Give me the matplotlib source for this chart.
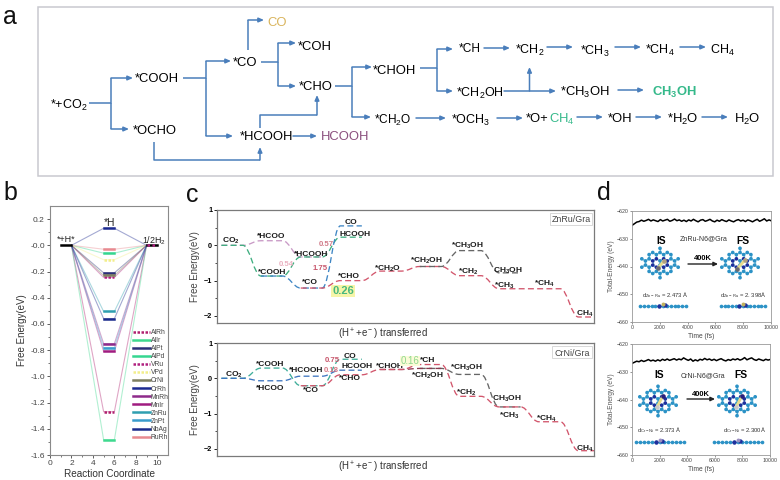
"""Panel figure: CO2 reduction pathways, H adsorption levels, free-energy profiles, AIMD traces."""

import matplotlib

matplotlib.use("Agg")
import matplotlib.pyplot as plt
import numpy as np
from matplotlib.collections import LineCollection
from matplotlib.lines import Line2D
from matplotlib.patches import PathPatch, Rectangle
from matplotlib.path import Path

plt.rcParams["font.family"] = ["Liberation Sans", "DejaVu Sans"]
plt.rcParams["mathtext.default"] = "regular"

W, H = 780, 480

# panel b
alloys = ["AlRh", "AlIr", "AlPt", "AlPd", "VRu", "VPd", "CrNi", "CrRh", "MnRh", "MnIr", "ZnRu", "ZnPt", "NbAg", "RuRh"]
h_levels = [-1.27, -1.485, -0.21, -0.06, -0.245, -0.11, -0.23, 0.13, -0.75, -0.81, -0.505, -0.78, -0.56, -0.03]
h_colors = ["#b0206f", "#3fd98f", "#2b2f78", "#35d690", "#b0207f", "#f2ee8c", "#7f8060", "#1c2a90",
            "#8e2a8a", "#a01c80", "#2f9fb0", "#3a9ccc", "#1a2a8c", "#e88a90"]
dotted_alloys = ["AlRh", "VRu", "VPd"]

# panel c, top: (steps, energies)
top_pink = ([0, 1, 2], [0, 0.13, -0.33])
top_green = ([0, 1, 2, 3], [0, -0.87, -0.33, 0.23])
top_blue = ([1, 2, 3], [-0.87, -1.21, 0.55])
top_red = ([2, 3, 4, 5, 6, 7, 8, 9], [-1.21, -1.0, -0.73, -0.6, -0.86, -1.23, -1.23, -2.03])
top_gray = ([5, 6, 7], [-0.6, -0.15, -0.78])

# panel c, bottom
bot_green = ([0, 1, 2, 3], [0, 0.29, -0.21, 0.54])
bot_blue = ([0, 1, 2, 3], [0, -0.07, 0.06, 0.23])
bot_red = ([2, 3, 4, 5, 6, 7, 8, 9], [-0.21, 0.10, 0.25, 0.39, -0.51, -0.81, -1.23, -2.05])
bot_dark = ([4, 5], [0.25, 0.28])
bot_gray = ([5, 6, 7], [0.28, 0.11, -0.81])

# panel d
time_fs = [0, 170, 340, 510, 680, 850, 1020, 1190, 1360, 1530, 1700, 1870, 2040, 2210, 2380, 2550, 2720, 2890,
           3060, 3230, 3400, 3570, 3740, 3910, 4080, 4250, 4420, 4590, 4760, 4930, 5100, 5270, 5440, 5610,
           5780, 5950, 6120, 6290, 6460, 6630, 6800, 6970, 7140, 7310, 7480, 7650, 7820, 7990, 8160, 8330,
           8500, 8670, 8840, 9010, 9180, 9350, 9520, 9690, 9860, 10000]
znru_energy = [-625.2, -624.6, -624.0, -623.8, -623.3, -623.7, -623.4, -623.0, -623.6, -623.2, -623.5, -623.8,
               -623.1, -623.6, -623.3, -623.0, -623.7, -623.4, -622.9, -623.5, -623.2, -623.7, -623.3, -623.8,
               -623.2, -623.6, -623.0, -623.5, -623.9, -623.3, -623.1, -623.7, -623.4, -623.0, -623.6, -623.9,
               -623.3, -623.7, -623.1, -623.5, -623.8, -623.2, -623.6, -623.9, -623.4, -623.1, -623.6, -623.3,
               -623.8, -623.2, -623.5, -623.9, -623.4, -623.0, -623.7, -623.3, -622.8, -623.6, -623.2, -623.5]
crni_energy = [-627.0, -626.6, -626.2, -626.4, -625.9, -626.3, -626.0, -625.6, -626.1, -625.8, -626.2, -625.7,
               -626.1, -625.5, -625.9, -625.4, -625.9, -625.6, -625.3, -625.8, -625.4, -625.7, -625.0, -625.5,
               -625.9, -625.4, -626.2, -625.7, -626.1, -625.5, -625.8, -625.2, -625.7, -625.4, -625.9, -625.5,
               -626.0, -625.6, -625.3, -625.8, -626.1, -625.6, -625.9, -625.4, -625.7, -625.3, -625.8, -625.5,
               -624.9, -625.7, -625.3, -625.0, -625.6, -625.9, -625.4, -625.7, -626.0, -625.5, -625.8, -625.6]

# panel a
node_texts = ["*+CO$_2$", "*COOH", "*OCHO", "*CO", "CO", "*COH", "*CHO", "*HCOOH", "HCOOH", "*CHOH", "*CH$_2$O",
              "*CH", "*CH$_2$", "*CH$_3$", "*CH$_4$", "CH$_4$", "*CH$_2$OH", "*CH$_3$OH", "CH$_3$OH", "*OCH$_3$",
              "*O+", "CH$_4$", "*OH", "*H$_2$O", "H$_2$O"]
node_xy = [(50, 103), (135, 78), (133, 129), (233, 61), (267, 21), (298, 45), (299, 86), (240, 136), (321, 136),
           (373, 70), (374, 118), (459, 47), (515, 48), (580, 49), (645, 48), (710, 48), (456, 91), (560, 90),
           (652, 90), (451, 118), (526, 117), (549, 117), (608, 117), (667, 117), (734, 117)]
node_colors = {"CO": "#d9b45c", "HCOOH": "#8a4f7d", "CH$_3$OH": "#35b98a"}

pathway_arrows = [
    [(89, 103), (111, 103), (111, 78), (133, 78)],
    [(111, 103), (111, 129), (129, 129)],
    [(183, 78), (206, 78), (206, 61), (231, 61)],
    [(206, 78), (206, 136), (233, 136)],
    [(248, 50), (248, 20), (264, 20)],
    [(261, 62), (278, 62), (278, 43), (296, 43)],
    [(278, 62), (278, 86), (296, 86)],
    [(335, 86), (352, 86), (352, 67), (372, 67)],
    [(352, 86), (352, 117), (371, 117)],
    [(260, 128), (260, 115), (317, 115), (317, 95)],
    [(293, 136), (317, 136)],
    [(154, 142), (154, 160), (260, 160), (260, 147)],
    [(420, 68), (437, 68), (437, 49), (453, 49)],
    [(437, 68), (437, 91), (453, 91)],
    [(484, 48), (510, 48)], [(547, 47), (573, 47)], [(615, 47), (641, 47)], [(680, 47), (706, 47)],
    [(504, 91), (556, 91)], [(529.5, 91), (529.5, 67)], [(618, 90), (644, 90)],
    [(416, 118), (446, 118)], [(497, 118), (523, 118)], [(577, 117), (603, 117)],
    [(636, 117), (662, 117)], [(702, 117), (728, 117)],
]

# panel c labels
top_labels = ["CO$_2$", "*HCOO", "*COOH", "*HCOOH", "*CO", "CO", "HCOOH", "*CHO", "*CH$_2$O", "*CH$_2$OH", "*CH$_3$OH",
              "*CH$_2$", "CH$_3$OH", "*CH$_3$", "*CH$_4$", "CH$_4$"]
top_label_xy = [(231, 239), (271, 236), (272, 272), (311, 253), (310, 282), (351, 221), (355, 233), (349, 276),
                (388, 267), (426, 259), (467, 244), (468, 270), (508, 269), (504, 284), (544, 282), (585, 312)]
bot_labels = ["CO$_2$", "*COOH", "*HCOO", "*HCOOH", "*CO", "CO", "HCOOH", "*CHO", "*CHOH", "*CH", "*CH$_2$OH",
              "*CH$_3$OH", "*CH$_2$", "CH$_3$OH", "*CH$_3$", "*CH$_4$", "CH$_4$"]
bot_label_xy = [(234, 373), (270, 364), (270, 387), (306, 369), (311, 390), (350, 355), (357, 366), (350, 378),
                (390, 366), (428, 360), (427, 374), (466, 366), (466, 391), (507, 397), (509, 414), (546, 417), (585, 447)]


def px_axes(fig, left, right, top, bottom):
    return fig.add_axes([left / W, 1 - bottom / H, (right - left) / W, (bottom - top) / H])


def profile(ax, steps, energies, color, half=0.27):
    verts, codes = [(steps[0] - half, energies[0]), (steps[0] + half, energies[0])], [Path.MOVETO, Path.LINETO]
    for k in range(1, len(steps)):
        x0, y0 = verts[-1]
        x1, y1 = steps[k] - half, energies[k]
        dx = x1 - x0
        verts += [(x0 + 0.4 * dx, y0), (x1 - 0.4 * dx, y1), (x1, y1), (steps[k] + half, y1)]
        codes += [Path.CURVE4, Path.CURVE4, Path.CURVE4, Path.LINETO]
    ax.add_patch(PathPatch(Path(verts, codes), fill=False, ec=color, lw=0.95, ls=(0, (4.5, 2.5))))


def flake(ov, cx, cy, metals, metal_colors, bond_color="#7fc4dc", s=4.2):
    atoms = []
    for i in range(-6, 7):
        for j in range(-6, 7):
            for b in (-0.5, 0.5):
                x = (i + j / 2) * np.sqrt(3)
                y = j * 1.5 + b
                if (x / 4.8) ** 2 + (y / 3.6) ** 2 <= 1:
                    atoms.append((x, y))
    atoms = np.array(atoms)
    d = np.hypot(*(atoms[:, None] - atoms[None]).transpose(2, 0, 1))
    pairs = [(atoms[a] * s + (cx, cy), atoms[b] * s + (cx, cy)) for a, b in zip(*np.where((d > 0.9) & (d < 1.1))) if a < b]
    ov.add_collection(LineCollection(pairs, colors=bond_color, lw=1.0))
    r = np.hypot(*atoms.T)
    colors = ["#1f2f9c" if 1.2 < v < 1.9 else "#2c92c6" for v in r]
    ov.scatter(*(atoms * s + (cx, cy)).T, s=7, c=colors, lw=0, zorder=3)
    ov.plot([cx + metals[0][0], cx + metals[1][0]], [cy + metals[0][1], cy + metals[1][1]], color="#e8dc8c", lw=2, zorder=3)
    for (mx, my), mc in zip(metals, metal_colors):
        ov.scatter(cx + mx, cy + my, s=11, c=mc, lw=0, zorder=4)


def side_view(ov, x0, x1, y, colors):
    xs = np.linspace(x0, x1, 13)
    ov.plot([x0, x1], [y, y], color="#5fa8d0", lw=0.8, zorder=3)
    ov.scatter(xs, [y] * 13, s=7, c="#2c92c6", lw=0, zorder=4)
    mid = (x0 + x1) / 2
    ov.scatter([mid - 4, mid + 2], [y - 0.5, y - 1], s=10, c="#1f2f9c", lw=0, zorder=5)
    ov.scatter([mid], [y - 2.5], s=8, c=colors, lw=0, zorder=5)


fig = plt.figure(figsize=(W / 100, H / 100), dpi=100, facecolor="white")

# panel b
axb = px_axes(fig, 50, 168, 206, 455)
for name, level, color in zip(alloys, h_levels, h_colors):
    axb.plot([2, 5, 6, 9], [0, level, level, 0], color=color, lw=0.8, alpha=0.4)
handles = []
for name, level, color in zip(alloys, h_levels, h_colors):
    ls = (0, (1, 0.6)) if name in dotted_alloys else "-"
    axb.plot([5, 6], [level, level], color=color, lw=1.8, ls=ls)
    handles.append(Line2D([], [], color=color, lw=1.8, ls=ls, label=name))
axb.plot([1, 2], [0, 0], color="black", lw=1.8)
axb.plot([9, 10], [0, 0], color="black", lw=1.8)
axb.plot([9, 10], [0, 0], color="#b0207f", lw=1.8, ls=(0, (1, 1)))
axb.set_xlim(0, 11)
axb.set_ylim(-1.6, 0.3)
axb.set_xticks([0, 2, 4, 6, 8, 10])
axb.set_yticks(np.arange(-1.6, 0.21, 0.2))
axb.set_yticklabels([f"{v:.1f}" for v in np.arange(-1.6, 0.21, 0.2)])
axb.set_xticks([1, 3, 5, 7, 9], minor=True)
axb.set_yticks(np.arange(-1.5, 0.21, 0.2), minor=True)
axb.tick_params(labelsize=6, length=2.2, width=0.6, pad=1.5, colors="#444444")
axb.tick_params(which="minor", length=1.2, width=0.5, colors="#444444")
axb.set_xlabel("Reaction Coordinate", fontsize=7.2, color="#333333", labelpad=1)
axb.set_ylabel("Free Energy(eV)", fontsize=7, color="#333333", labelpad=2)
for sp in axb.spines.values():
    sp.set_color("#8a8a8a")
    sp.set_linewidth(0.8)
axb.legend(handles=handles, loc="lower left", bbox_to_anchor=(0.703, 0.056), frameon=False, fontsize=4.9,
           handlelength=2.5, handletextpad=0.15, labelspacing=0.16, borderpad=0, borderaxespad=0, labelcolor="#444444")

# panel c
axc1 = px_axes(fig, 217, 594, 210, 323)
axc2 = px_axes(fig, 217, 594, 343, 456)
for steps_e, col in [(top_pink, "#c99ac6"), (top_green, "#3fae80"), (top_blue, "#3f86c4"), (top_red, "#d2566c"), (top_gray, "#666666")]:
    profile(axc1, *steps_e, col)
for steps_e, col in [(bot_green, "#3fae9a"), (bot_blue, "#3f76c0"), (bot_gray, "#666666"), (bot_dark, "#8a3a50"), (bot_red, "#d2566c")]:
    profile(axc2, *steps_e, col)
for ax in (axc1, axc2):
    ax.set_xlim(-0.38, 9.12)
    ax.set_ylim(-2.2, 1)
    ax.set_xticks([])
    ax.set_yticks([-2, -1, 0, 1])
    ax.set_yticks([-1.5, -0.5, 0.5], minor=True)
    ax.tick_params(length=2, width=0.6, pad=1.5)
    ax.tick_params(which="minor", length=1.2, width=0.5)
    for lab in ax.get_yticklabels():
        lab.set_fontsize(5.2)
        lab.set_fontweight("bold")
    ax.set_ylabel("Free Energy(eV)", fontsize=6.9, color="#444444", labelpad=3)
    ax.set_xlabel("(H$^+$+e$^-$) transferred", fontsize=7, color="#333333", labelpad=3, x=0.44)
    for sp in ax.spines.values():
        sp.set_color("#7a7a7a")
        sp.set_linewidth(0.9)

# panel d
for box, energy in [((632, 771, 211, 322), znru_energy), ((632, 770, 344, 455), crni_energy)]:
    ax = px_axes(fig, *box)
    ax.plot(time_fs, energy, color="black", lw=1.1)
    ax.set_xlim(0, 10000)
    ax.set_ylim(-660, -620)
    ax.set_xticks(range(0, 10001, 2000))
    ax.set_yticks(range(-660, -619, 10))
    ax.tick_params(labelsize=3.8, length=1.5, width=0.4, pad=1, colors="#444444")
    ax.set_xlabel("Time (fs)", fontsize=4.8, labelpad=1.5, color="#444444")
    ax.set_ylabel("Total-Energy (eV)", fontsize=4.8, labelpad=1, color="#555555")
    for sp in ax.spines.values():
        sp.set_color("#999999")
        sp.set_linewidth(0.6)

# pixel overlay for the schematic and annotations
ov = fig.add_axes([0, 0, 1, 1], zorder=10)
ov.set_xlim(0, W)
ov.set_ylim(H, 0)
ov.axis("off")
ov.patch.set_alpha(0)

ov.add_patch(Rectangle((38, 7), 735, 169, fill=False, ec="#c9c9cf", lw=1.1))
for pts in pathway_arrows:
    xs, ys = zip(*pts)
    ov.plot(xs[:-1], ys[:-1], color="#4a7ebb", lw=1.1, solid_capstyle="butt")
    ov.annotate("", xy=pts[-1], xytext=pts[-2],
                arrowprops=dict(arrowstyle="-|>,head_width=0.13,head_length=0.3", color="#4a7ebb", lw=1.1, shrinkA=0, shrinkB=0))
for i, (txt, (x, y)) in enumerate(zip(node_texts, node_xy)):
    product = i in (4, 8, 18, 21)
    color = node_colors.get(txt, "black") if product else "black"
    if i == 21:
        color = "#35b98a"
    size = 8.6 if i in (10, 11) else (9.4 if i not in (0, 12, 13, 14, 15, 16, 19) else 9.0)
    ov.text(x, y, txt, fontsize=size, color=color, ha="left", va="center_baseline", fontweight="bold" if i == 18 else "normal")

for letter, (x, y) in zip("abcd", [(3, 14), (3, 191), (186, 192), (597, 191)]):
    ov.text(x, y, letter, fontsize=18, ha="left", va="center_baseline", color="#111111")

for txt, x, y, size in [("*+H*", 66, 238, 6.5), ("*H", 109, 222, 7.4), ("1/2H$_2$", 154, 239, 6.4)]:
    ov.text(x, y, txt, fontsize=size, ha="center", va="center_baseline", color="#222222")

for txt, (x, y) in zip(top_labels + bot_labels, top_label_xy + bot_label_xy):
    ov.text(x, y, txt, fontsize=6, fontweight="bold", ha="center", va="center_baseline", color="#1a1a1a")

for txt, x, y, col in [("0.57", 326, 243, "#d07a88"), ("0.54", 286, 263, "#eab0c0"), ("1.75", 320, 267, "#c8566c"),
                       ("0.75", 332, 360, "#c8566c"), ("0.18", 331, 369, "#d87a88")]:
    ov.text(x, y, txt, fontsize=5.6, fontweight="bold", ha="center", va="center_baseline", color=col)
ov.text(343, 290, "0.26", fontsize=8, fontweight="bold", ha="center", va="center_baseline", color="#48b87e",
        bbox=dict(fc="#f6f5a8", ec="none", pad=0.6))
ov.text(410, 360, "0.16", fontsize=7, ha="center", va="center_baseline", color="#8ed88e",
        bbox=dict(fc="#fbfbd8", ec="none", pad=0.3))

for txt, x0, x1, y0, y1 in [("ZnRu/Gra", 550, 592, 213, 225), ("CrNi/Gra", 552, 592, 346, 358)]:
    ov.add_patch(Rectangle((x0, y0), x1 - x0, y1 - y0, fc="white", ec="#d8d8d8", lw=0.7))
    ov.text((x0 + x1) / 2, (y0 + y1) / 2, txt, fontsize=6.4, ha="center", va="center_baseline", color="#444444")

# panel d insets
flake(ov, 660, 263, [(4, -2), (-2, 5)], ["#b0a080", "#6a6a70"])
flake(ov, 740, 263, [(5, -3), (-3, 6)], ["#b0a080", "#6a6a70"])
flake(ov, 658, 401, [(5, -5), (-1, 6)], ["#2a1f7c", "#c8c8c8"], "#5fb4d4")
flake(ov, 737, 401, [(5, -5), (-1, 6)], ["#2a1f7c", "#c8c8c8"], "#5fb4d4")
side_view(ov, 640, 686, 306, "#c0b060")
side_view(ov, 721, 765, 306, "#c0b060")
side_view(ov, 636, 684, 442, "#9a8fc0")
side_view(ov, 714, 762, 442, "#9a8fc0")
for txt, x, y in [("IS", 661, 240), ("FS", 743, 240), ("IS", 659, 374), ("FS", 741, 374)]:
    ov.text(x, y, txt, fontsize=7.4, fontweight="bold", ha="center", va="center_baseline")
for txt, x, y in [("ZnRu-N6@Gra", 704, 238), ("CrNi-N6@Gra", 703, 375)]:
    ov.text(x, y, txt, fontsize=5, ha="center", va="center_baseline", color="#333333")
for x0, x1, y in [(688, 718, 264), (687, 715, 399)]:
    ov.annotate("", xy=(x1, y), xytext=(x0, y),
                arrowprops=dict(arrowstyle="-|>,head_width=0.12,head_length=0.25", color="#222222", lw=1, shrinkA=0, shrinkB=0))
for x, y in [(703, 258), (701, 394)]:
    ov.text(x, y, "400K", fontsize=5.4, fontweight="bold", ha="center", va="center_baseline")
for txt, x, y in [("d$_{Zn-Ru}$ = 2.473 Å", 665, 294), ("d$_{Zn-Ru}$ = 2. 398Å", 743, 294),
                  ("d$_{Cr-Ni}$ = 2.373 Å", 659, 429), ("d$_{Cr-Ni}$ = 2.300Å", 745, 429)]:
    ov.text(x, y, txt, fontsize=4.2, ha="center", va="center_baseline", color="#333333")

fig.savefig("out.png", dpi=100)
